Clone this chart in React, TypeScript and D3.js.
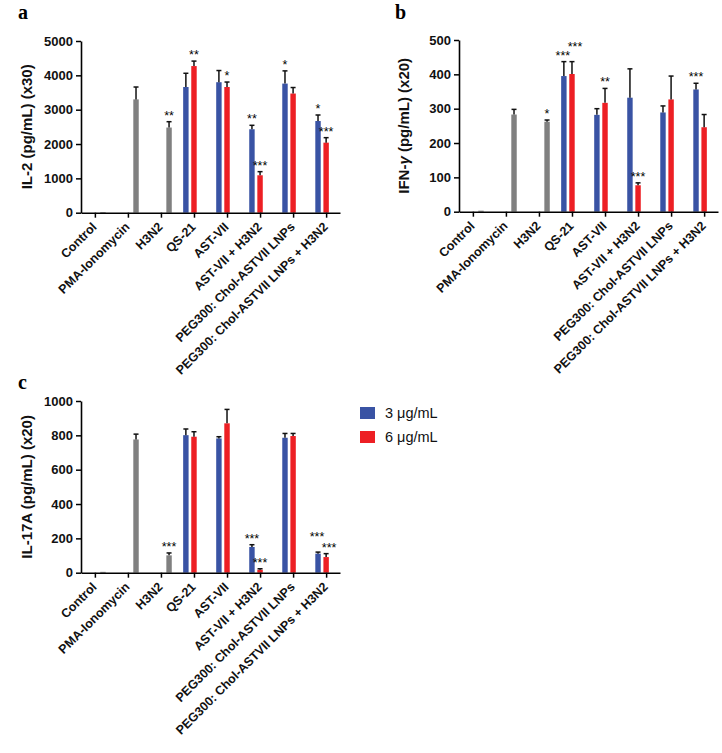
import React, { useEffect, useRef } from "react";
import * as d3 from "d3";

const categories = [
  "Control",
  "PMA-Ionomycin",
  "H3N2",
  "QS-21",
  "AST-VII",
  "AST-VII + H3N2",
  "PEG300: Chol-ASTVII LNPs",
  "PEG300: Chol-ASTVII LNPs + H3N2",
];

const seriesKeys = ["dose3", "dose6", "single"];
const legendLabels = ["3 \u03bcg/mL", "6 \u03bcg/mL"];
const colors: Record<string, string> = { dose3: "#3953a4", dose6: "#ed1f24", single: "#808080" };

// IL-2 (x30)
const il2Dose3 = [null, null, null, 3660, 3800, 2430, 3760, 2670];
const il2Dose3Err = [null, null, null, 400, 340, 115, 370, 175];
const il2Dose3Stars = ["", "", "", "", "", "**", "*", "*"];
const il2Dose6 = [null, null, null, 4270, 3660, 1090, 3470, 2040];
const il2Dose6Err = [null, null, null, 145, 145, 105, 175, 145];
const il2Dose6Stars = ["", "", "", "**", "*", "***", "", "***"];
const il2Single = [20, 3300, 2480, null, null, null, null, null];
const il2SingleErr = [0, 360, 170, null, null, null, null, null];
const il2SingleStars = ["", "", "**", "", "", "", "", ""];
const il2Ticks = [0, 1000, 2000, 3000, 4000, 5000];

// IFN-gamma (x20)
const ifnDose3 = [null, null, null, 395, 282, 332, 289, 356];
const ifnDose3Err = [null, null, null, 42, 18, 84, 19, 18];
const ifnDose3Stars = ["", "", "", "***", "", "", "", "***"];
const ifnDose6 = [null, null, null, 401, 317, 77, 327, 246];
const ifnDose6Err = [null, null, null, 36, 42, 7, 68, 37];
const ifnDose6Stars = ["", "", "", "***", "**", "***", "", ""];
const ifnSingle = [3, 283, 262, null, null, null, null, null];
const ifnSingleErr = [0, 15, 5, null, null, null, null, null];
const ifnSingleStars = ["", "", "*", "", "", "", "", ""];
const ifnTicks = [0, 100, 200, 300, 400, 500];

// IL-17A (x20)
const il17Dose3 = [null, null, null, 801, 782, 150, 786, 111];
const il17Dose3Err = [null, null, null, 36, 10, 13, 25, 9];
const il17Dose3Stars = ["", "", "", "", "", "***", "", "***"];
const il17Dose6 = [null, null, null, 792, 870, 17, 796, 91];
const il17Dose6Err = [null, null, null, 29, 81, 6, 15, 20];
const il17Dose6Stars = ["", "", "", "", "", "***", "", "***"];
const il17Single = [5, 776, 101, null, null, null, null, null];
const il17SingleErr = [0, 31, 14, null, null, null, null, null];
const il17SingleStars = ["", "", "***", "", "", "", "", ""];
const il17Ticks = [0, 200, 400, 600, 800, 1000];

const panels = [
  {
    letter: "a", title: ["IL-2 (pg/mL) (x30)"], ticks: il2Ticks,
    left: 81, right: 340, top: 41, bottom: 212.7, letterX: 18, letterY: 19, titleX: 32,
    series: {
      dose3: [il2Dose3, il2Dose3Err, il2Dose3Stars],
      dose6: [il2Dose6, il2Dose6Err, il2Dose6Stars],
      single: [il2Single, il2SingleErr, il2SingleStars],
    },
  },
  {
    letter: "b", title: ["IFN-", "\u03b3", " (pg/mL) (x20)"], ticks: ifnTicks,
    left: 459, right: 718, top: 40, bottom: 211.7, letterX: 395, letterY: 19, titleX: 409,
    series: {
      dose3: [ifnDose3, ifnDose3Err, ifnDose3Stars],
      dose6: [ifnDose6, ifnDose6Err, ifnDose6Stars],
      single: [ifnSingle, ifnSingleErr, ifnSingleStars],
    },
  },
  {
    letter: "c", title: ["IL-17A (pg/mL) (x20)"], ticks: il17Ticks,
    left: 81, right: 340, top: 401, bottom: 572.7, letterX: 18, letterY: 389, titleX: 32,
    series: {
      dose3: [il17Dose3, il17Dose3Err, il17Dose3Stars],
      dose6: [il17Dose6, il17Dose6Err, il17Dose6Stars],
      single: [il17Single, il17SingleErr, il17SingleStars],
    },
  },
];

const FONT = "'Liberation Sans', Arial, sans-serif";

export default function App() {
  const svgRef = useRef<SVGSVGElement>(null);

  useEffect(() => {
    document.body.style.margin = "0";
    const svg = d3.select(svgRef.current);
    svg.selectAll("*").remove();

    panels.forEach((p) => {
      const g = svg.append("g");
      const x = d3.scalePoint<string>().domain(categories).range([p.left, p.right]).padding(0.42);
      const slot = d3.scaleBand<string>().domain(seriesKeys).range([-13.5, 13.5]).padding(0.33);
      const y = d3.scaleLinear().domain([0, p.ticks[p.ticks.length - 1]]).range([p.bottom, p.top]);

      // bars
      seriesKeys.forEach((key) => {
        const [vals, errs] = (p.series as any)[key];
        const rows = categories
          .map((c, i) => ({ c, v: vals[i], e: errs[i] }))
          .filter((d) => d.v != null);
        g.append("g")
          .attr("fill", colors[key])
          .selectAll("rect")
          .data(rows)
          .join("rect")
          .attr("x", (d) => x(d.c)! + slot(key)!)
          .attr("width", slot.bandwidth())
          .attr("y", (d) => y(d.v))
          .attr("height", (d) => y(0) - y(d.v));

        // error bars (upper only)
        const eg = g.append("g").attr("stroke", "#111").attr("stroke-width", 1.5);
        rows.filter((d) => d.e > 0).forEach((d) => {
          const cx = x(d.c)! + slot(key)! + slot.bandwidth() / 2;
          eg.append("line").attr("x1", cx).attr("x2", cx).attr("y1", y(d.v)).attr("y2", y(d.v + d.e));
          eg.append("line").attr("x1", cx - 2.5).attr("x2", cx + 2.5).attr("y1", y(d.v + d.e)).attr("y2", y(d.v + d.e));
        });
      });

      // significance stars
      categories.forEach((c, i) => {
        const s3 = (p.series as any).dose3;
        const s6 = (p.series as any).dose6;
        const both = s3[2][i] && s6[2][i];
        const top3 = s3[0][i] != null ? y(s3[0][i] + s3[1][i]) : 0;
        const top6 = s6[0][i] != null ? y(s6[0][i] + s6[1][i]) : 0;
        const clash = both && Math.abs(top3 - top6) < 12;
        seriesKeys.forEach((key) => {
          const [vals, errs, stars] = (p.series as any)[key];
          if (!stars[i]) return;
          const cx = x(c)! + slot(key)! + slot.bandwidth() / 2;
          let ty = y(vals[i] + errs[i]) - 2;
          let dx = 0;
          if (clash) {
            const lifted = key === "dose6" ? top6 <= top3 : top3 < top6;
            if (lifted) ty -= 9;
            dx = key === "dose6" ? 3 : -1;
          }
          g.append("text")
            .attr("x", cx + dx)
            .attr("y", ty)
            .attr("text-anchor", "middle")
            .attr("font-family", FONT)
            .attr("font-size", 12.5)
            .text(stars[i]);
        });
      });

      // y axis
      const ya = g.append("g")
        .attr("transform", `translate(${p.left},0)`)
        .call(d3.axisLeft(y).tickValues(p.ticks).tickSize(5).tickSizeOuter(0).tickPadding(3).tickFormat(d3.format("d")));
      ya.select(".domain").attr("stroke-width", 1.6);
      ya.selectAll(".tick line").attr("stroke-width", 1.5);
      ya.selectAll("text").attr("font-family", FONT).attr("font-weight", "bold").attr("font-size", 13).attr("fill", "#111");

      // x axis
      const xa = g.append("g")
        .attr("transform", `translate(0,${p.bottom})`)
        .call(d3.axisBottom(x).tickSize(5).tickSizeOuter(0));
      xa.select(".domain").attr("stroke-width", 1.6);
      xa.selectAll(".tick line").attr("stroke-width", 1.5);
      xa.selectAll("text")
        .attr("font-family", FONT)
        .attr("font-weight", "bold")
        .attr("font-size", 12.5)
        .attr("fill", "#111")
        .attr("text-anchor", "end")
        .attr("x", 0)
        .attr("y", 0)
        .attr("dy", 0)
        .attr("transform", "translate(2,15) rotate(-45)");

      // axis title
      const t = g.append("text")
        .attr("transform", `translate(${p.titleX},${(p.top + p.bottom) / 2}) rotate(-90)`)
        .attr("text-anchor", "middle")
        .attr("font-family", FONT)
        .attr("font-weight", "bold")
        .attr("font-size", 15)
        .attr("fill", "#111");
      p.title.forEach((part) => {
        t.append("tspan").attr("font-style", part === "\u03b3" ? "italic" : "normal").text(part);
      });

      // panel letter
      g.append("text")
        .attr("x", p.letterX)
        .attr("y", p.letterY)
        .attr("font-family", "'Liberation Serif', 'Times New Roman', serif")
        .attr("font-weight", "bold")
        .attr("font-size", 20)
        .text(p.letter);
    });

    // legend
    const lg = svg.append("g").attr("transform", "translate(360,407)");
    ["dose3", "dose6"].forEach((key, i) => {
      lg.append("rect").attr("x", 0).attr("y", i * 24).attr("width", 15).attr("height", 12).attr("fill", colors[key]);
      lg.append("text")
        .attr("x", 25)
        .attr("y", i * 24 + 11)
        .attr("font-family", FONT)
        .attr("font-size", 14.5)
        .attr("fill", "#111")
        .text(legendLabels[i]);
    });
  }, []);

  return <svg ref={svgRef} width={722} height={753} style={{ display: "block", background: "#fff" }} />;
}
